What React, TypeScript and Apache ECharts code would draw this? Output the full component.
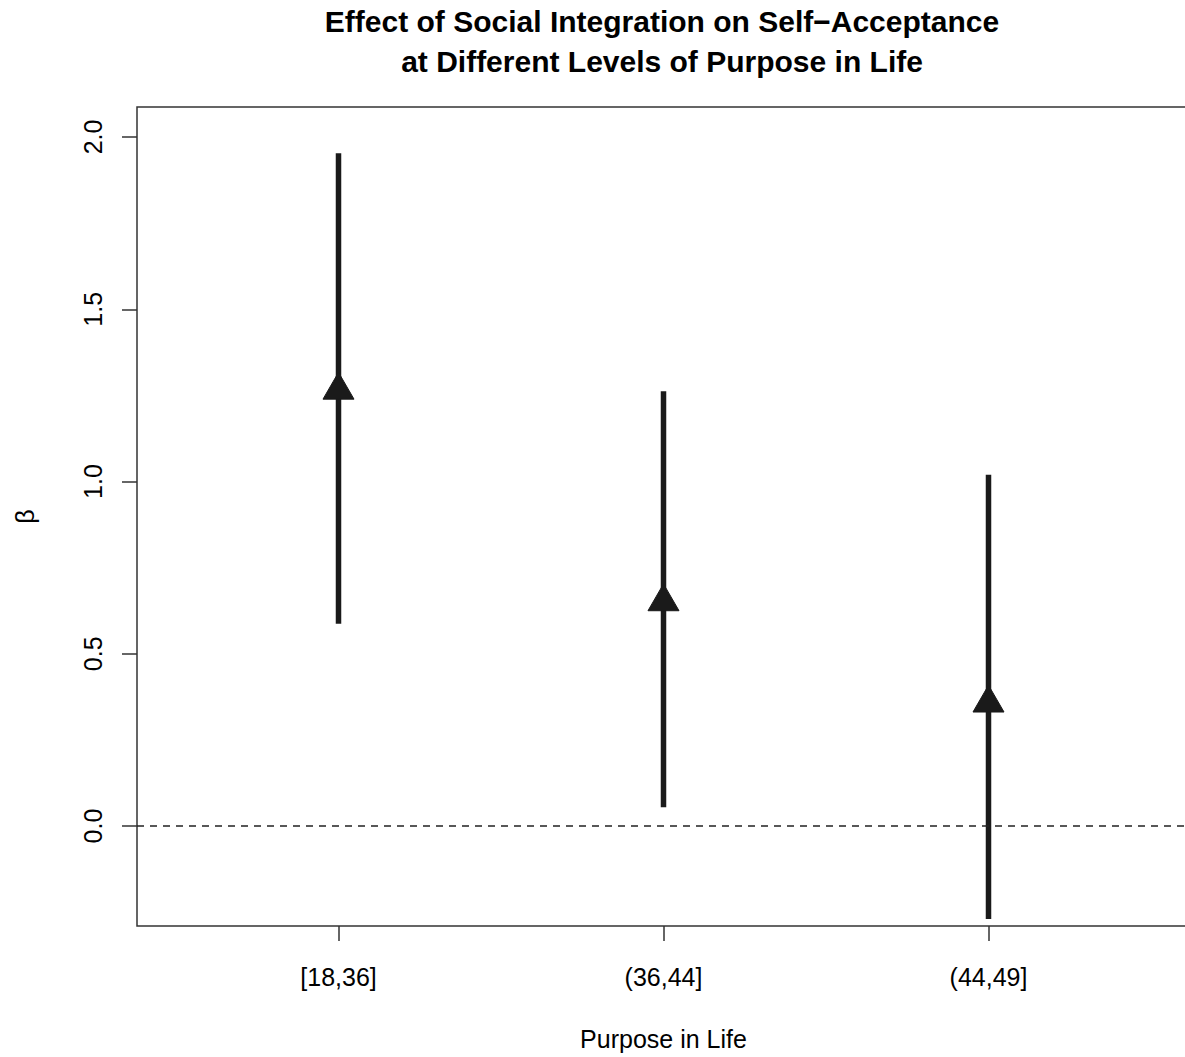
import React, { useEffect, useRef } from "react";
import * as echarts from "echarts";

const categories = ["[18,36]", "(36,44]", "(44,49]"];
const estimates = [1.265, 0.651, 0.357];
const lowerBounds = [0.587, 0.055, -0.27];
const upperBounds = [1.953, 1.262, 1.02];
const yTicks = [0, 0.5, 1, 1.5, 2];
const xTicks = [1, 2, 3];
const xRange = [0.38, 3.62];
const yRange = [-0.29, 2.087];
const refLineY = 0;

const FONT = "'Liberation Sans', Arial, Helvetica, sans-serif";
const INK = "#1a1a1a";

export default function App() {
  const ref = useRef<HTMLDivElement>(null);
  useEffect(() => {
    document.body.style.margin = "0";
    const chart = echarts.init(ref.current!, null, { renderer: "svg" });
    const data = categories.map((c, i) => [xTicks[i], estimates[i], lowerBounds[i], upperBounds[i]]);
    chart.setOption({
      animation: false,
      textStyle: { fontFamily: FONT },
      title: {
        text: "Effect of Social Integration on Self\u2212Acceptance\nat Different Levels of Purpose in Life",
        left: 657,
        top: -4,
        textAlign: "center",
        textStyle: { fontFamily: FONT, fontSize: 30, fontWeight: "bold", lineHeight: 40, color: "#000" },
      },
      grid: {
        left: 137,
        top: 107,
        width: 1053,
        height: 819,
        show: true,
        borderColor: "#333",
        borderWidth: 1.5,
        backgroundColor: "transparent",
      },
      xAxis: {
        type: "value",
        min: xRange[0],
        max: xRange[1],
        name: "Purpose in Life",
        nameLocation: "middle",
        nameGap: 100,
        nameTextStyle: { fontFamily: FONT, fontSize: 25, color: "#000" },
        axisLine: { show: false, onZero: false },
        splitLine: { show: false },
        axisTick: { show: true, customValues: xTicks, length: 15, inside: false, lineStyle: { color: "#333", width: 1.5 } },
        axisLabel: {
          customValues: xTicks,
          margin: 38,
          fontFamily: FONT,
          fontSize: 25,
          color: "#000",
          formatter: (v: number) => categories[Math.round(v) - 1] ?? "",
        },
      },
      yAxis: {
        type: "value",
        min: yRange[0],
        max: yRange[1],
        name: "\u03b2",
        nameLocation: "middle",
        nameRotate: 90,
        nameGap: 100,
        nameTextStyle: { fontFamily: FONT, fontSize: 25, color: "#000" },
        axisLine: { show: false, onZero: false },
        splitLine: { show: false },
        axisTick: { show: true, customValues: yTicks, length: 15, inside: false, lineStyle: { color: "#333", width: 1.5 } },
        axisLabel: {
          customValues: yTicks,
          rotate: 90,
          margin: 32,
          fontFamily: FONT,
          fontSize: 25,
          color: "#000",
          formatter: (v: number) => v.toFixed(1),
        },
      },
      series: [
        {
          type: "line",
          data: [[xRange[0], refLineY], [xRange[1], refLineY]],
          symbol: "none",
          lineStyle: { color: "#222", width: 1.5, type: [7, 6] },
          silent: true,
        },
        {
          type: "custom",
          data,
          renderItem: (params: any, api: any) => {
            const x = api.value(0);
            const est = api.value(1);
            const lo = api.value(2);
            const hi = api.value(3);
            const pLo = api.coord([x, lo]);
            const pHi = api.coord([x, hi]);
            const pE = api.coord([x, est]);
            const r = 17.9;
            const hw = r * Math.sqrt(3) / 2;
            return {
              type: "group",
              children: [
                {
                  type: "line",
                  shape: { x1: pLo[0], y1: pLo[1], x2: pHi[0], y2: pHi[1] },
                  style: { stroke: INK, lineWidth: 5.5, lineCap: "butt" },
                },
                {
                  type: "polygon",
                  shape: {
                    points: [
                      [pE[0], pE[1] - r],
                      [pE[0] + hw, pE[1] + r / 2],
                      [pE[0] - hw, pE[1] + r / 2],
                    ],
                  },
                  style: { fill: INK, stroke: INK, lineWidth: 1 },
                },
              ],
            };
          },
        },
      ],
    });
    return () => chart.dispose();
  }, []);
  return (
    <div style={{ width: 1185, height: 1057, overflow: "hidden" }}>
      <div ref={ref} style={{ width: 1210, height: 1057 }} />
    </div>
  );
}
